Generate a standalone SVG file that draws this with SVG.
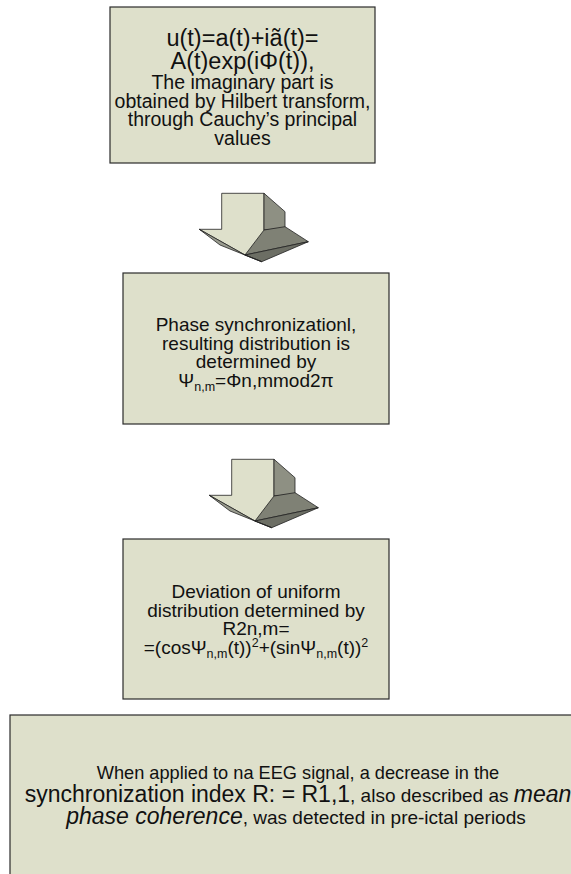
<svg xmlns="http://www.w3.org/2000/svg" width="571" height="874" viewBox="0 0 571 874">
<style>
.box{fill:#DEE0CB;stroke:#2b2b2b;stroke-width:1.2}
text{font-family:"Liberation Sans",Arial,sans-serif;fill:#111;text-anchor:middle}
.face{stroke:#222;stroke-width:0.8;stroke-linejoin:round}
</style>
<defs>
<g id="arrow3d">
<polygon class="face" fill="#DEE0CB" points="221.7,193.3 264,193.3 264,230 287,229 245,255 199.3,229.3 221.7,229.3"/>
<polygon class="face" fill="#8E9083" points="264,193.3 285,211.7 285,228.3 264,230"/>
<polygon class="face" fill="#7F8175" points="264,230 285,226.7 308.3,241.7 245,255"/>
<polygon class="face" fill="#6C6E64" points="245,255 308.3,241.7 261.7,261.7"/>
<polygon class="face" fill="#9A9C8F" points="199.3,229.3 245,255 261.7,261.7 220,245"/>
</g>
</defs>
<rect width="571" height="874" fill="#fff"/>
<g id="connectors">
<use href="#arrow3d"/>
<use href="#arrow3d" transform="translate(10,266)"/>
</g>
<g id="node1">
<rect class="box" x="110" y="7" width="265" height="156"/>
<text x="242.5" y="46" font-size="23.5">u(t)=a(t)+iã(t)=</text>
<text x="242.5" y="69" font-size="23.5">A(t)exp(iΦ(t)),</text>
<text x="242.5" y="89" font-size="19.5">The imaginary part is</text>
<text x="242.5" y="107.5" font-size="19.5">obtained by Hilbert transform,</text>
<text x="242.5" y="126" font-size="19.5">through Cauchy’s principal</text>
<text x="242.5" y="144.5" font-size="19.5">values</text>
</g>
<g id="node2">
<rect class="box" x="123" y="273" width="266" height="151"/>
<text x="256" y="331" font-size="19">Phase synchronizationl,</text>
<text x="256" y="349.5" font-size="19">resulting distribution is</text>
<text x="256" y="368" font-size="19">determined by</text>
<text x="256" y="386.5" font-size="19">Ψ<tspan font-size="12.5" dy="4">n,m</tspan><tspan dy="-4">=Φn,mmod2π</tspan></text>
</g>
<g id="node3">
<rect class="box" x="123" y="539" width="266" height="160"/>
<text x="256" y="598" font-size="19">Deviation of uniform</text>
<text x="256" y="616.5" font-size="19">distribution determined by</text>
<text x="256" y="635" font-size="19">R2n,m=</text>
<text x="256" y="653.5" font-size="19">=(cosΨ<tspan font-size="12.5" dy="4">n,m</tspan><tspan dy="-4">(t))</tspan><tspan font-size="12.5" dy="-7">2</tspan><tspan dy="7">+(sinΨ</tspan><tspan font-size="12.5" dy="4">n,m</tspan><tspan dy="-4">(t))</tspan><tspan font-size="12.5" dy="-7">2</tspan></text>
</g>
<g id="node4">
<rect class="box" x="10" y="715" width="580" height="200"/>
<text x="298" y="779" font-size="18.2">When applied to na EEG signal, a decrease in the</text>
<text x="298" y="802" font-size="23">synchronization index R: = R1,1<tspan font-size="19">, also described as </tspan><tspan font-style="italic">mean</tspan></text>
<text x="296" y="824" font-size="19"><tspan font-size="23" font-style="italic">phase coherence</tspan>, was detected in pre-ictal periods</text>
</g>
</svg>
